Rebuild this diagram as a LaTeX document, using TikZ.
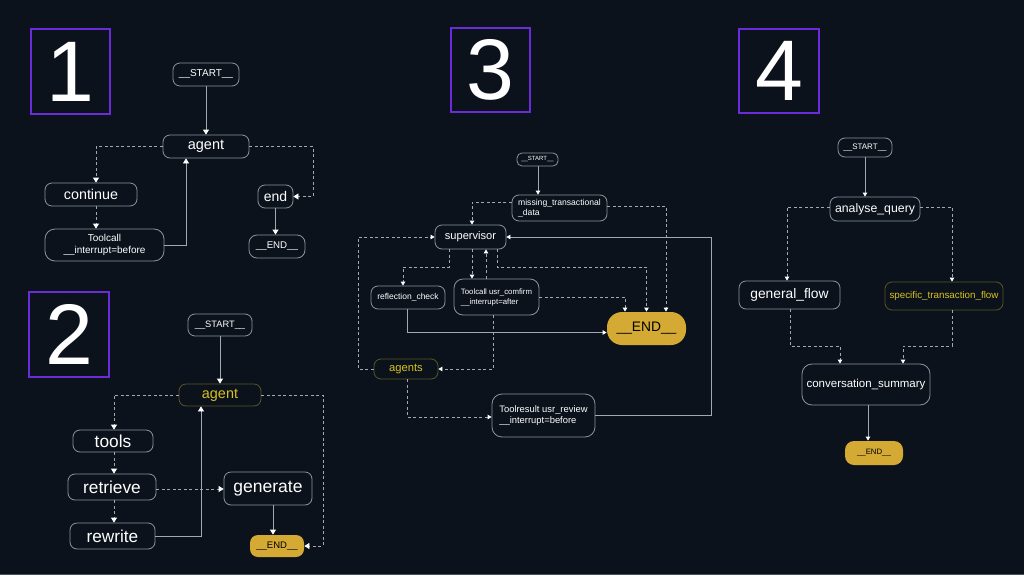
\documentclass[tikz,border=0pt]{standalone}
\usepackage{fontspec}
\setmainfont{Liberation Sans}
\usetikzlibrary{arrows.meta}
\definecolor{bg}{HTML}{0B121C}
\definecolor{bord}{HTML}{8E939B}
\definecolor{lin}{HTML}{A3A7AE}
\definecolor{purp}{HTML}{6A2BD9}
\definecolor{ylw}{HTML}{D9C21C}
\definecolor{olive}{HTML}{5A5524}
\definecolor{endy}{HTML}{D4AA34}
\definecolor{strip}{HTML}{4B515C}
\begin{document}
\begin{tikzpicture}[x=1pt,y=-1pt,
  nd/.style={draw=bord, line width=0.8pt, rounded corners=7pt, fill=bg, text=white, inner sep=0pt, align=center},
  hl/.style={draw=olive, text=ylw},
  endn/.style={draw=none, fill=endy, text=black},
  fs/.style={font=\fontsize{#1}{#1}\selectfont},
  fstwo/.style 2 args={font=\fontsize{#1}{#2}\selectfont},
  digit/.style={draw=purp, line width=2.6pt, text=white, inner sep=0pt, font=\fontsize{86}{86}\selectfont},
  sol/.style={draw=lin, line width=0.8pt, -{Triangle[width=6pt,length=5pt,color=white]}},
  dsh/.style={draw=lin, line width=0.8pt, dash pattern=on 3pt off 2.5pt, -{Triangle[width=6pt,length=5pt,color=white]}},
  sm/.style={-{Triangle[width=4.5pt,length=4pt,color=white]}}
]
\fill[bg] (0,0) rectangle (1024,575);
\useasboundingbox (0,0) rectangle (1024,575);
\fill[strip] (0,574) rectangle (1024,575);

% digit boxes
\node[digit, minimum width=79pt, minimum height=85pt] (d1) at (70.5,71.5) {1};
\node[digit, minimum width=80pt, minimum height=85pt] (d2) at (69,334.5) {2};
\node[digit, minimum width=79pt, minimum height=84pt] (d3) at (490.5,70) {3};
\node[digit, minimum width=80pt, minimum height=84pt] (d4) at (779,71) {4};

% ---------- panel 1
\node[nd, fs=10, minimum width=66pt, minimum height=23pt] (s1) at (206,74.5) {\_\_START\_\_};
\node[nd, fs=14.5, minimum width=86pt, minimum height=23pt] (a1) at (206,146.5) {agent};
\node[nd, fs=14.3, minimum width=92pt, minimum height=23pt] (c1) at (91,194.5) {continue};
\node[nd, fstwo={10}{12}, minimum width=119pt, minimum height=32pt, rounded corners=10pt] (t1) at (104.5,245) {Toolcall\\\_\_interrupt=before};
\node[nd, fs=14, minimum width=35pt, minimum height=23pt] (e1) at (275.5,196.5) {end};
\node[nd, fs=9.7, minimum width=56pt, minimum height=23pt, rounded corners=8pt] (E1) at (277,246.5) {\_\_END\_\_};
\coordinate (L1a) at (96,0);
\coordinate (L1b) at (186,0);
\coordinate (R1) at (313,0);
\draw[sol] (s1) -- (a1);
\draw[dsh] (a1.west) -| (c1.north -| L1a);
\draw[dsh] (c1.south -| L1a) -- (t1.north -| L1a);
\draw[sol] (t1.east) -| (a1.south -| L1b);
\draw[dsh] (a1.east) -| (e1.east -| R1) -- (e1.east);
\draw[sol] (e1.south) -- (e1.south |- E1.north);

% ---------- panel 2
\node[nd, fs=9.3, minimum width=64pt, minimum height=22pt] (s2) at (220,325) {\_\_START\_\_};
\node[nd, hl, fs=14.4, minimum width=82pt, minimum height=22pt] (a2) at (220,395) {agent};
\node[nd, fs=17.3, minimum width=80pt, minimum height=22pt] (to2) at (113,441) {tools};
\node[nd, fs=17.3, minimum width=88pt, minimum height=26pt] (re2) at (112,487) {retrieve};
\node[nd, fs=17.2, minimum width=85pt, minimum height=26pt] (rw2) at (112.5,536) {rewrite};
\node[nd, fs=17.5, minimum width=88pt, minimum height=33pt] (g2) at (268,488.5) {generate};
\node[nd, endn, fs=9.5, minimum width=54pt, minimum height=22pt, rounded corners=8pt] (E2) at (277,546) {\_\_END\_\_};
\coordinate (L2a) at (114,0);
\coordinate (L2b) at (201,0);
\coordinate (L2c) at (273,0);
\coordinate (R2) at (323,0);
\draw[sol] (s2) -- (a2);
\draw[dsh] (a2.west) -| (to2.north -| L2a);
\draw[dsh] (to2.south -| L2a) -- (re2.north -| L2a);
\draw[dsh] (re2.south -| L2a) -- (rw2.north -| L2a);
\draw[dsh] ([yshift=-2pt]re2.east) -- ([yshift=-2pt]re2.east -| g2.west);
\draw[sol] (rw2.east) -| (a2.south -| L2b);
\draw[sol] (g2.south -| L2c) -- (E2.north -| L2c);
\draw[dsh] (a2.east) -| (E2.east -| R2) -- (E2.east);

% ---------- panel 3
\node[nd, fs=6, minimum width=41pt, minimum height=13pt, rounded corners=5pt] (s3) at (537.5,159.5) {\_\_START\_\_};
\node[nd, fstwo={8.6}{10}, align=left, minimum width=95pt, minimum height=26pt] (m3) at (559.5,208) {missing\_transactional\\\_data};
\node[nd, fs=11.1, minimum width=71pt, minimum height=24pt] (sv3) at (470.5,237) {supervisor};
\node[nd, fs=8.5, minimum width=74pt, minimum height=23pt] (rc3) at (408,297.5) {reflection\_check};
\node[nd, fstwo={7.8}{10}, align=left, minimum width=85pt, minimum height=36pt, rounded corners=9pt] (tc3) at (496.5,297) {Toolcall usr\_comfirm\\\_\_interrupt=after};
\node[nd, endn, fs=13.8, minimum width=79pt, minimum height=33pt, rounded corners=15pt] (E3) at (646.5,328.5) {\_\_END\_\_};
\node[nd, hl, fs=11.2, minimum width=64pt, minimum height=20pt] (ag3) at (406,369) {agents};
\node[nd, fstwo={9.4}{11}, align=left, minimum width=103pt, minimum height=43pt, rounded corners=10pt] (tr3) at (543.5,415.5) {Toolresult usr\_review\\\_\_interrupt=before};
\coordinate (L3s) at (538,0);
\coordinate (L3a) at (472,0);
\coordinate (R3a) at (666,0);
\coordinate (L3L) at (358,0);
\coordinate (H3) at (0,267);
\coordinate (L3b) at (449,0);
\coordinate (L3c) at (403,0);
\coordinate (L3d) at (486,0);
\coordinate (L3e) at (497,0);
\coordinate (L3g) at (625,0);
\coordinate (L3h) at (407,0);
\coordinate (L3i) at (493,0);
\coordinate (R3b) at (711,0);
\draw[sol, sm] (s3.south -| L3s) -- (m3.north -| L3s);
\draw[dsh, sm] ([yshift=6pt]m3.west) -| (sv3.north -| L3a);
\draw[dsh, sm] ([yshift=2pt]m3.east) -| (E3.north -| R3a);
\draw[dsh, sm] (ag3.west) -| (sv3.west -| L3L) -- (sv3.west);
\draw[dsh, sm] (sv3.south -| L3b) -- (L3b |- H3) -| (rc3.north -| L3c);
\draw[dsh, sm] (sv3.south -| L3a) -- (tc3.north -| L3a);
\draw[dsh, sm] (tc3.north -| L3d) -- (sv3.south -| L3d);
\draw[dsh, sm] (sv3.south -| L3e) -- (L3e |- H3) -| (E3.north);
\draw[dsh, sm] (tc3.east) -| (E3.north -| L3g);
\draw[sol, sm] (rc3.south -| L3h) |- ([yshift=-4pt]E3.west);
\draw[dsh, sm] (tc3.south -| L3i) |- (ag3.east);
\draw[dsh, sm] (ag3.south -| L3h) |- ([yshift=-1.5pt]tr3.west);
\draw[sol, sm] (tr3.east) -| (sv3.east -| R3b) -- (sv3.east);

% ---------- panel 4
\node[nd, fs=8, minimum width=54pt, minimum height=19pt] (s4) at (865,147.5) {\_\_START\_\_};
\node[nd, fs=12.3, minimum width=90pt, minimum height=24pt] (aq4) at (875,209) {analyse\_query};
\node[nd, fs=13.8, minimum width=101pt, minimum height=28pt] (gf4) at (789.5,295) {general\_flow};
\node[nd, hl, fs=9.8, minimum width=118pt, minimum height=28pt] (sf4) at (944,296) {specific\_transaction\_flow};
\node[nd, fs=11.5, minimum width=128pt, minimum height=41pt, rounded corners=10pt] (cs4) at (866,384.5) {conversation\_summary};
\node[nd, endn, fs=7.8, minimum width=58pt, minimum height=24pt, rounded corners=9pt] (E4) at (874,453) {\_\_END\_\_};
\coordinate (L4a) at (787,0);
\coordinate (L4b) at (952,0);
\coordinate (L4c) at (790,0);
\coordinate (H4) at (0,346);
\coordinate (L4d) at (840,0);
\coordinate (L4e) at (903,0);
\coordinate (L4f) at (868,0);
\draw[sol, sm] (s4.south) -- (s4.south |- aq4.north);
\draw[dsh, sm] ([yshift=2pt]aq4.west) -| (gf4.north -| L4a);
\draw[dsh, sm] ([yshift=2pt]aq4.east) -| (sf4.north -| L4b);
\draw[dsh, sm] (gf4.south -| L4c) -- (L4c |- H4) -| (cs4.north -| L4d);
\draw[dsh, sm] (sf4.south -| L4b) -- (L4b |- H4) -| (cs4.north -| L4e);
\draw[sol, sm] (cs4.south -| L4f) -- (E4.north -| L4f);
\end{tikzpicture}
\end{document}
